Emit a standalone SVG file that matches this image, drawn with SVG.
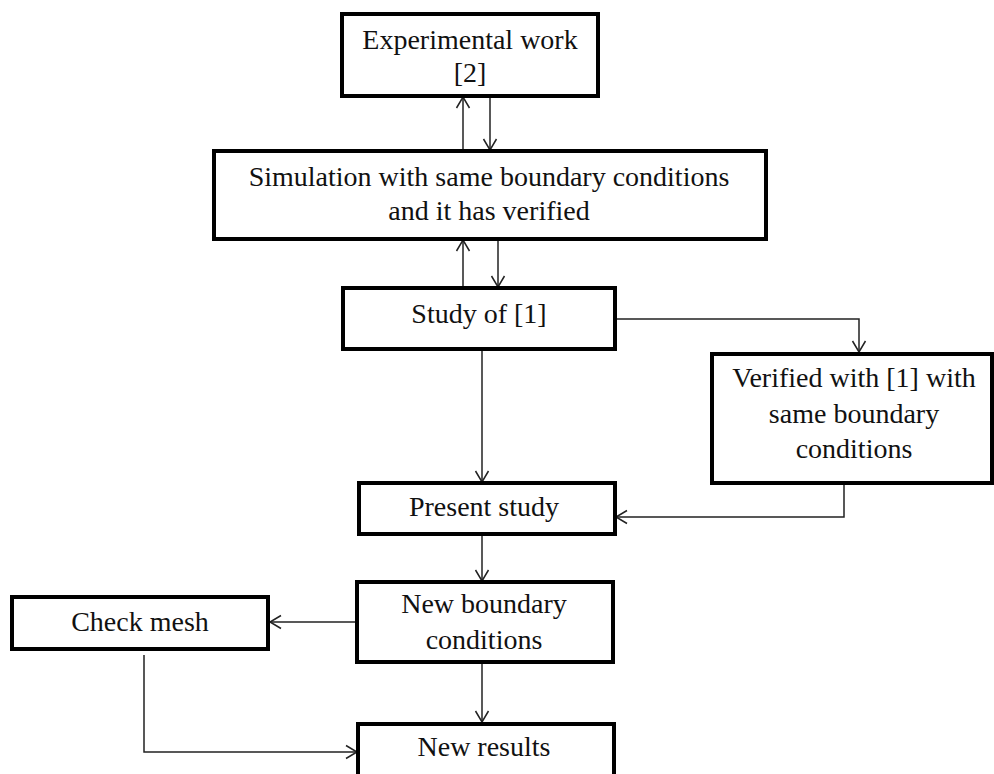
<svg xmlns="http://www.w3.org/2000/svg" width="994" height="774" viewBox="0 0 994 774">
<style>
.box{fill:#fff;stroke:#000;stroke-width:4}
.lbl{font-family:"Liberation Serif","Times New Roman",serif;font-size:28px;fill:#111;text-anchor:middle}
.conn{fill:none;stroke:#222;stroke-width:1.5}
</style>
<defs>
<marker id="arr" markerUnits="userSpaceOnUse" markerWidth="14" markerHeight="16" viewBox="-12 -8 14 16" refX="0" refY="0" orient="auto">
<path d="M-11,-6.5 L0,0 L-11,6.5" fill="none" stroke="#222" stroke-width="1.5"/>
</marker>
</defs>
<rect width="994" height="774" fill="#fff"/>
<g id="connectors">
<path class="conn" d="M463,151 V97" marker-end="url(#arr)"/>
<path class="conn" d="M490,97 V150" marker-end="url(#arr)"/>
<path class="conn" d="M463,288 V240" marker-end="url(#arr)"/>
<path class="conn" d="M498,240 V287" marker-end="url(#arr)"/>
<path class="conn" d="M616,319 H859 V352" marker-end="url(#arr)"/>
<path class="conn" d="M482,350 V482" marker-end="url(#arr)"/>
<path class="conn" d="M844,484 V517 H616" marker-end="url(#arr)"/>
<path class="conn" d="M482,535 V581" marker-end="url(#arr)"/>
<path class="conn" d="M357,622 H270" marker-end="url(#arr)"/>
<path class="conn" d="M482,663 V722" marker-end="url(#arr)"/>
<path class="conn" d="M144,655 V752 H357" marker-end="url(#arr)"/>
</g>
<g id="experimental">
<rect class="box" x="342" y="14" width="256" height="82"/>
<text class="lbl" x="470" y="49">Experimental work</text>
<text class="lbl" x="470" y="82">[2]</text>
</g>
<g id="simulation">
<rect class="box" x="214" y="151" width="552" height="88"/>
<text class="lbl" x="489" y="186">Simulation with same boundary conditions</text>
<text class="lbl" x="489" y="220">and it has verified</text>
</g>
<g id="study">
<rect class="box" x="343" y="288" width="272" height="61"/>
<text class="lbl" x="479" y="323">Study of [1]</text>
</g>
<g id="verified">
<rect class="box" x="712" y="354" width="280" height="129"/>
<text class="lbl" x="854" y="387">Verified with [1] with</text>
<text class="lbl" x="854" y="423">same boundary</text>
<text class="lbl" x="854" y="458">conditions</text>
</g>
<g id="present">
<rect class="box" x="359" y="483" width="256" height="51"/>
<text class="lbl" x="484" y="516">Present study</text>
</g>
<g id="newboundary">
<rect class="box" x="357" y="582" width="256" height="80"/>
<text class="lbl" x="484" y="613">New boundary</text>
<text class="lbl" x="484" y="649">conditions</text>
</g>
<g id="checkmesh">
<rect class="box" x="12" y="597" width="256" height="52"/>
<text class="lbl" x="140" y="631">Check mesh</text>
</g>
<g id="newresults">
<rect class="box" x="358" y="724" width="256" height="80"/>
<text class="lbl" x="484" y="756">New results</text>
</g>
</svg>
